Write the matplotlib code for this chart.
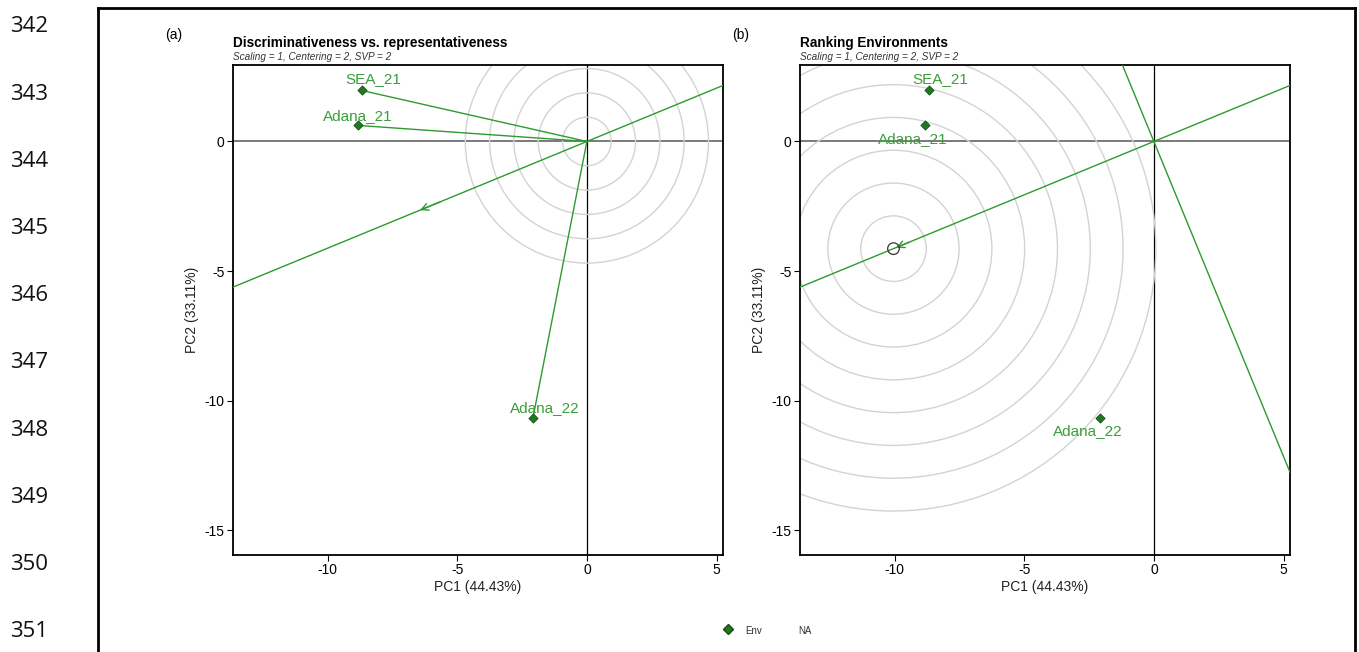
"""GGE biplot panels: discriminativeness vs. representativeness and ranking of environments."""
import matplotlib
matplotlib.use("Agg")
import matplotlib.pyplot as plt
from matplotlib.lines import Line2D
from matplotlib.patches import Circle
import numpy as np

plt.rcParams["font.family"] = ["Liberation Sans", "DejaVu Sans"]
plt.rcParams["axes.unicode_minus"] = False

# environment scores on the first two principal components
env_names = ["SEA_21", "Adana_21", "Adana_22"]
env_pc1 = [-8.69, -8.84, -2.08]
env_pc2 = [1.97, 0.62, -10.66]

# label offsets (points) for each panel
label_off_a = [(8.5, 8), (0, 7), (8.5, 7)]
label_off_b = [(8.5, 8), (-8.5, -10), (-8.5, -9.5)]

x_ticks = [-10, -5, 0, 5]
y_ticks = [0, -5, -10, -15]
x_label = "PC1 (44.43%)"
y_label = "PC2 (33.11%)"
subtitle = "Scaling = 1, Centering = 2, SVP = 2"

ring_step_a, n_rings_a = 0.938, 5
ring_step_b, n_rings_b = 1.265, 8

GREEN_LINE = "#2f9a2f"
GREEN_TEXT = "#3a9e3a"
GREEN_FILL = "#1f7a1f"

W, H = 1359, 652
fig = plt.figure(figsize=(W / 100, H / 100), dpi=100)

x = np.array(env_pc1)
y = np.array(env_pc2)
aea = np.array([x.mean(), y.mean()])
aea_unit = aea / np.hypot(*aea)
ideal = aea_unit * np.hypot(x, y).max()
xlim = (-13.65, 5.25)
ylim = (-15.95, 2.95)


def base_axes(left_px, title, tag):
    ax = fig.add_axes([left_px / W, 1 - 555 / H, 490 / W, 490 / H])
    ax.set_xlim(*xlim)
    ax.set_ylim(*ylim)
    ax.axhline(0, color="#7a7a7a", lw=1.4, zorder=1)
    ax.axvline(0, color="black", lw=0.9, zorder=1)
    ax.set_xticks(x_ticks)
    ax.set_yticks(y_ticks)
    ax.tick_params(labelsize=10, length=4, width=0.8, direction="out", pad=2)
    for s in ax.spines.values():
        s.set_linewidth(1.3)
    ax.set_xlabel(x_label, fontsize=10, labelpad=2, color="#222222")
    ax.set_ylabel(y_label, fontsize=10, labelpad=4, color="#222222")
    fig.text((left_px - 68) / W, 1 - 35 / H, tag, fontsize=10, va="center")
    fig.text(left_px / W, 1 - 43 / H, title, fontsize=9.8, fontweight="bold",
             va="center")
    fig.text(left_px / W, 1 - 57 / H, subtitle, fontsize=7.2, style="italic",
             va="center", color="#333333")
    return ax


def aea_line(ax):
    t = np.array([-30, 30])
    ax.plot(t * aea_unit[0], t * aea_unit[1], color=GREEN_LINE, lw=1.0, zorder=3)


def env_points(ax, offsets):
    ax.scatter(x, y, marker="D", s=22, color=GREEN_FILL, edgecolor="#184d18",
               linewidth=0.6, zorder=5)
    for name, px, py, off in zip(env_names, x, y, offsets):
        ax.annotate(name, (px, py), xytext=off, textcoords="offset points",
                    ha="center", va="center", fontsize=11, color=GREEN_TEXT,
                    zorder=6)


# (a) discriminativeness vs. representativeness
ax = base_axes(233, "Discriminativeness vs. representativeness", "(a)")
for k in range(1, n_rings_a + 1):
    ax.add_patch(Circle((0, 0), k * ring_step_a, fill=False, ec="#d3d3d3",
                        lw=1.0, zorder=2))
aea_line(ax)
for px, py in zip(x, y):
    ax.plot([0, px], [0, py], color=GREEN_LINE, lw=1.0, zorder=3)
ax.annotate("", xy=aea, xytext=aea * 0.85,
            arrowprops=dict(arrowstyle="->,head_length=0.5,head_width=0.25",
                            color=GREEN_LINE, lw=1.0), zorder=4)
env_points(ax, label_off_a)

# (b) ranking environments
ax = base_axes(800, "Ranking Environments", "(b)")
for k in range(1, n_rings_b + 1):
    ax.add_patch(Circle(ideal, k * ring_step_b, fill=False, ec="#d3d3d3",
                        lw=1.0, zorder=2))
aea_line(ax)
perp = np.array([-aea_unit[1], aea_unit[0]])
t = np.array([-30, 30])
ax.plot(t * perp[0], t * perp[1], color=GREEN_LINE, lw=1.0, zorder=3)
ax.annotate("", xy=ideal, xytext=ideal * 0.93,
            arrowprops=dict(arrowstyle="->,head_length=0.5,head_width=0.25",
                            color=GREEN_LINE, lw=1.0), zorder=4)
ax.scatter([ideal[0]], [ideal[1]], marker="o", s=70, facecolor="none",
           edgecolor="#333333", linewidth=0.9, zorder=5)
env_points(ax, label_off_b)

# shared legend below the panels
fig.add_artist(Line2D([728 / W], [1 - 629 / H], marker="D", markersize=5,
                      color=GREEN_FILL, markeredgecolor="#184d18", ls="none"))
fig.text(745 / W, 1 - 631 / H, "Env", fontsize=7, va="center", color="#333333")
fig.text(798 / W, 1 - 631 / H, "NA", fontsize=7, va="center", color="#333333")

# page line numbers and the figure frame
for i, num in enumerate(range(342, 352)):
    fig.text(10 / W, 1 - (27 + i * 67.2) / H, str(num), fontsize=16,
             family="Open Sans", va="center", color="#111111")
frame = dict(color="black", lw=2.0, solid_capstyle="projecting")
fig.add_artist(Line2D([98 / W, 98 / W], [0, 1 - 8 / H], **frame))
fig.add_artist(Line2D([98 / W, 1355 / W], [1 - 8 / H, 1 - 8 / H], **frame))
fig.add_artist(Line2D([1355 / W, 1355 / W], [0, 1 - 8 / H], **frame))

fig.savefig("out.png", dpi=100)
